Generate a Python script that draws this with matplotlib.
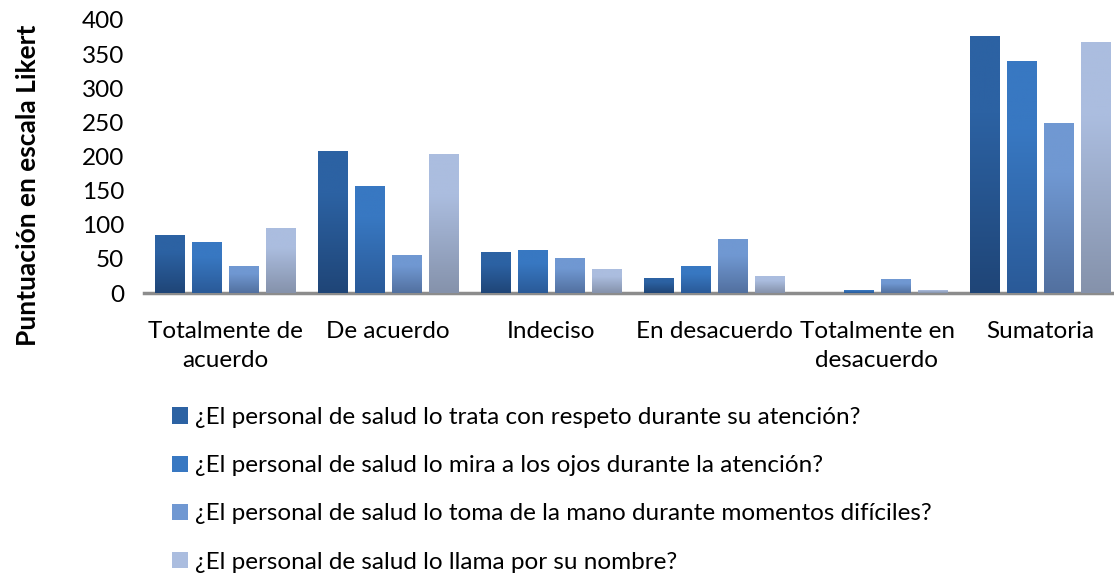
import numpy as np
import matplotlib
matplotlib.use('Agg')
import matplotlib.pyplot as plt
from matplotlib.colors import LinearSegmentedColormap

plt.rcParams['font.family'] = ['Lato', 'DejaVu Sans']

categorias = ['Totalmente de\nacuerdo', 'De acuerdo', 'Indeciso', 'En desacuerdo',
              'Totalmente en\ndesacuerdo', 'Sumatoria']
series = ['¿El personal de salud lo trata con respeto durante su atención?',
          '¿El personal de salud lo mira a los ojos durante la atención?',
          '¿El personal de salud lo toma de la mano durante momentos difíciles?',
          '¿El personal de salud lo llama por su nombre?']
respeto = [85, 208, 60, 22, 0, 376]
ojos = [75, 157, 63, 40, 5, 340]
mano = [40, 56, 51, 79, 20, 249]
nombre = [95, 204, 35, 25, 5, 368]
valores = [respeto, ojos, mano, nombre]

# color arriba / abajo del degradado
colores = [('#2C62A3', '#1F4577'),
           ('#3878C2', '#2A5A98'),
           ('#7098D2', '#52709F'),
           ('#ABBDDF', '#8592AB')]

fs = 17.5

fig = plt.figure(figsize=(11.14, 5.77), dpi=100)
ax = fig.add_axes([143.5/1114, 1 - 293/577, (1112 - 143.5)/1114, (293 - 20)/577])

x = np.arange(len(categorias))
paso = 0.227
ancho = 0.184
for i, (vals, (c_top, c_bot)) in enumerate(zip(valores, colores)):
    pos = x + (i - 1.5) * paso
    barras = ax.bar(pos, vals, width=ancho, color=c_top, label=series[i], zorder=2)
    cmap = LinearSegmentedColormap.from_list('g%d' % i, [(0, c_bot), (0.7, c_top), (1, c_top)])
    grad = np.linspace(0, 1, 256).reshape(-1, 1)
    for b in barras:
        if b.get_height() <= 0:
            continue
        x0, y0 = b.get_x(), b.get_y()
        im = ax.imshow(grad, cmap=cmap, origin='lower', aspect='auto',
                       extent=[x0, x0 + b.get_width(), y0, y0 + b.get_height()], zorder=3)
        im.set_clip_path(b)

ax.set_xlim(-0.5, 5.5 - (1121.5 - 1112) / 163)
ax.set_ylim(0, 400)
ax.set_yticks(range(0, 401, 50))
ax.set_xticks(x)
ax.set_xticklabels(categorias, fontsize=fs, linespacing=1.5)
ax.tick_params(axis='both', length=0, labelsize=fs, colors='black')
ax.tick_params(axis='x', pad=20)
ax.tick_params(axis='y', pad=14)
for s in ['top', 'right', 'left']:
    ax.spines[s].set_visible(False)
ax.spines['bottom'].set_color('#8C8C8C')
ax.spines['bottom'].set_linewidth(2.5)

fig.text(28/1114, 1 - 185/577, 'Puntuación en escala Likert', rotation=90,
         fontsize=19, fontweight='bold', ha='center', va='center')

handles, labels = ax.get_legend_handles_labels()
leg = fig.legend(handles, labels, loc='upper left', bbox_to_anchor=(172/1114, 1 - 407/577),
                 frameon=False, fontsize=fs, handlelength=0.65, handleheight=0.65,
                 handletextpad=0.3, labelspacing=1.12, borderpad=0, borderaxespad=0)

fig.savefig('out.png', dpi=100)
